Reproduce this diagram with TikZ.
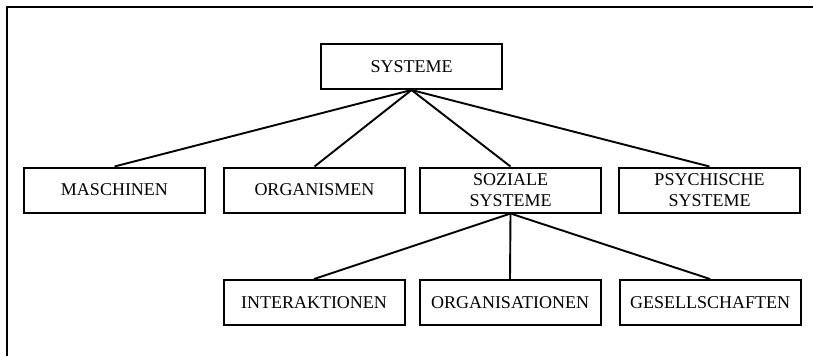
\documentclass[tikz,border=0pt]{standalone}
\usepackage{fontspec}
\setmainfont{Liberation Serif}
\begin{document}
\begin{tikzpicture}[x=1pt,y=-1pt,
  box/.style={draw,line width=2pt,minimum width=181pt,minimum height=45pt,inner sep=0pt,align=center,font=\fontsize{18}{21.5}\selectfont},
  conn/.style={line width=1.9pt}]
\useasboundingbox (0,0) rectangle (813,356);
\draw[line width=2.2pt] (813,7) -- (7,7) -- (7,356);
\node[box] (sys) at (411.5,66.5) {SYSTEME};
\node[box] (mas) at (114.5,190) {MASCHINEN};
\node[box] (org) at (314.5,190) {ORGANISMEN};
\node[box] (soz) at (510.5,190) {SOZIALE\\SYSTEME};
\node[box] (psy) at (709.5,190) {PSYCHISCHE\\SYSTEME};
\node[box] (int) at (314,302.5) {INTERAKTIONEN};
\node[box] (ors) at (510,302.5) {ORGANISATIONEN};
\node[box] (ges) at (710,302.5) {GESELLSCHAFTEN};
\foreach \t in {mas,org,soz,psy} \draw[conn] (sys.south) -- (\t.north);
\foreach \t in {int,ors,ges} \draw[conn] (soz.south) -- (\t.north);
\end{tikzpicture}
\end{document}
